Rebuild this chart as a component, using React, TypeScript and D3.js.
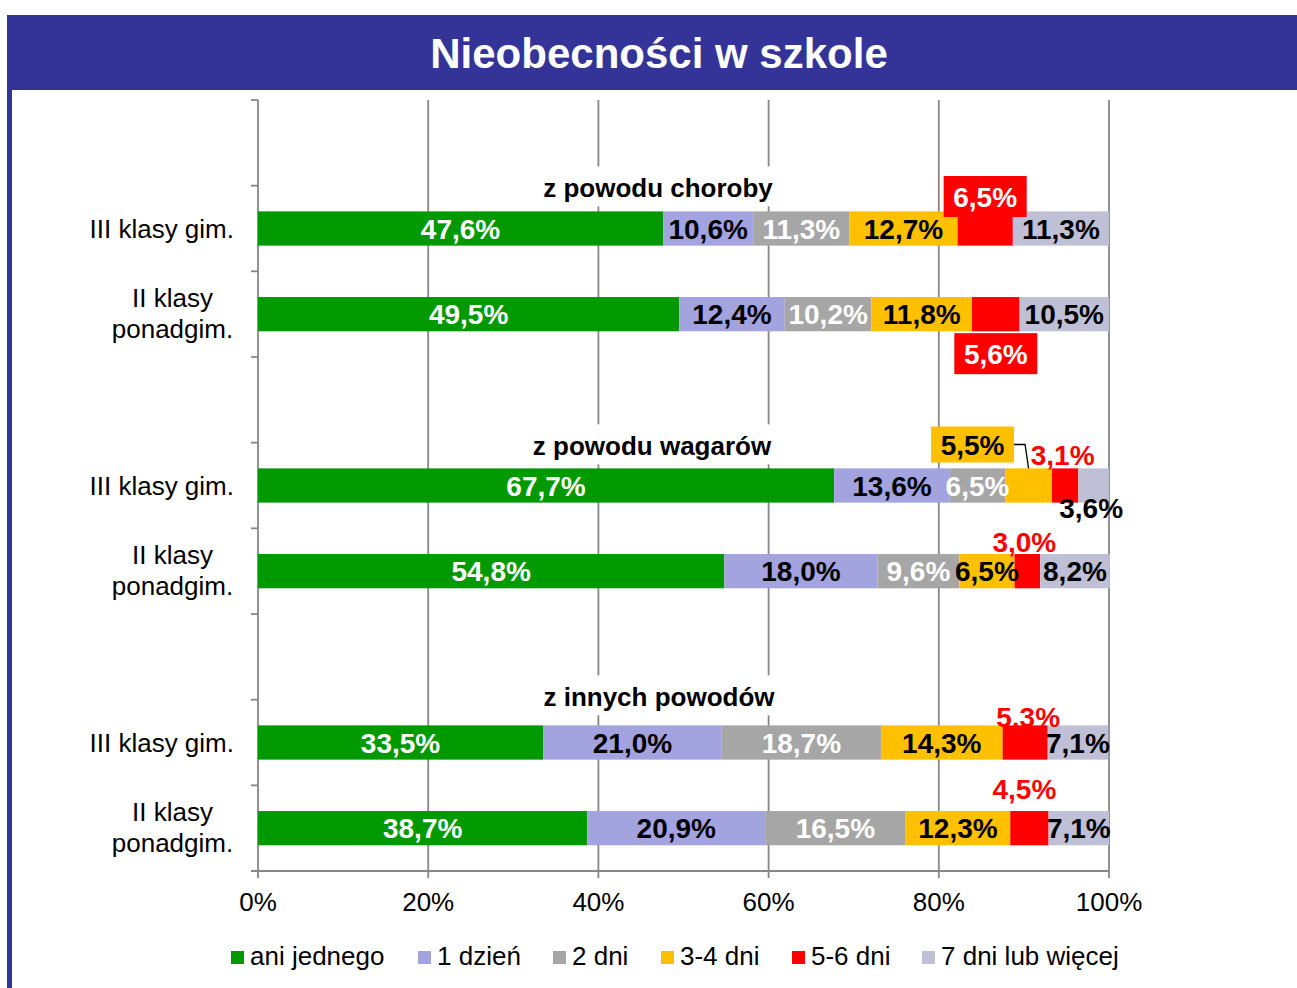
import React from "react";
import * as d3 from "d3";

// ---- data ----
const seriesNames = ["ani jednego", "1 dzień", "2 dni", "3-4 dni", "5-6 dni", "7 dni lub więcej"];
const seriesColors = ["#009900", "#A3A3E0", "#A6A6A6", "#FFC000", "#FF0000", "#BFBFD6"];
const labelColors = ["#FFFFFF", "#000000", "#FFFFFF", "#000000", "#FF0000", "#000000"];

const groupTitles = ["z powodu choroby", "z powodu wagarów", "z innych powodów"];
const rowLabels = [["III klasy gim."], ["II klasy", "ponadgim."]];

const chorobyIII = [47.6, 10.6, 11.3, 12.7, 6.5, 11.3];
const chorobyII = [49.5, 12.4, 10.2, 11.8, 5.6, 10.5];
const wagaryIII = [67.7, 13.6, 6.5, 5.5, 3.1, 3.6];
const wagaryII = [54.8, 18.0, 9.6, 6.5, 3.0, 8.2];
const inneIII = [33.5, 21.0, 18.7, 14.3, 5.3, 7.1];
const inneII = [38.7, 20.9, 16.5, 12.3, 4.5, 7.1];

const xTicks = [0, 20, 40, 60, 80, 100];

// ---- layout ----
const W = 1297;
const H = 988;
const FONT = "'Liberation Sans', Arial, Helvetica, sans-serif";
const BLUE = "#343498";
const GRID = "#878787";

const slots = ["g0", "g0r0", "g0r1", "g1", "g1r0", "g1r1", "g2", "g2r0", "g2r1"];
const groupRows = [
  [chorobyIII, chorobyII],
  [wagaryIII, wagaryII],
  [inneIII, inneII],
];

type Special = { dx: number; dy: number; box?: string; color?: string; connector?: boolean };
const specials: Record<string, Special> = {
  "0-0-4": { dx: 0, dy: -32, box: "#FF0000", color: "#FFFFFF" },
  "0-1-4": { dx: 0, dy: 39.5, box: "#FF0000", color: "#FFFFFF" },
  "1-0-3": { dx: -56, dy: -41, box: "#FFC000", color: "#000000", connector: true },
  "1-0-4": { dx: -2.5, dy: -31 },
  "1-0-5": { dx: -2.5, dy: 22 },
  "1-1-4": { dx: -3, dy: -29 },
  "2-0-4": { dx: 3, dy: -26 },
  "2-1-4": { dx: -5, dy: -39 },
};
const headingDx = [-25.5, -31.5, -24.5];
const headingDy = [-14, -13, -19];
const legendX = [231, 418, 553, 661, 792, 922];

const fmt = (v: number) => v.toFixed(1).replace(".", ",") + "%";

export default function App() {
  const x = d3.scaleLinear().domain([0, 100]).range([258, 1109]);
  const y = d3.scaleBand<string>().domain(slots).range([100, 871]).paddingInner(0.6).paddingOuter(0.3);
  const step = y.step();
  const bw = y.bandwidth();
  const axisTop = 100;
  const axisBottom = 871;

  const bars: React.ReactNode[] = [];
  const labels: React.ReactNode[] = [];
  const catLabels: React.ReactNode[] = [];
  const headings: React.ReactNode[] = [];

  groupRows.forEach((rows, g) => {
    rows.forEach((vals, r) => {
      const key = `g${g}r${r}`;
      const y0 = y(key)!;
      const cy = y0 + bw / 2;
      const stack = d3.stack<number[]>().keys(vals.map((_, i) => String(i))).value((d, k) => d[+k])([vals]);
      stack.forEach((s, i) => {
        const [a, b] = s[0];
        bars.push(
          <rect key={`b${g}${r}${i}`} x={x(a)} y={y0} width={x(b) - x(a)} height={bw} fill={seriesColors[i]} />
        );
        const sp = specials[`${g}-${r}-${i}`];
        const lx = (x(a) + x(b)) / 2 + (sp ? sp.dx : 0);
        const ly = cy + (sp ? sp.dy : 0);
        const col = sp && sp.color ? sp.color : i === 4 && !sp ? "#FFFFFF" : labelColors[i];
        if (sp && sp.box) {
          const bwid = 83;
          const bh = sp.connector ? 36 : 41;
          labels.push(
            <rect key={`lb${g}${r}${i}`} x={lx - bwid / 2} y={ly - bh / 2} width={bwid} height={bh} fill={sp.box} />
          );
          if (sp.connector) {
            const sx = (x(a) + x(b)) / 2;
            labels.push(
              <polyline
                key={`lc${g}${r}${i}`}
                points={`${lx + bwid / 2},${ly} ${lx + bwid / 2 + 11},${ly} ${sx},${y0}`}
                fill="none"
                stroke="#000"
                strokeWidth={1.3}
              />
            );
          }
        }
        labels.push(
          <text
            key={`lt${g}${r}${i}`}
            x={lx}
            y={ly + 10}
            textAnchor="middle"
            fontFamily={FONT}
            fontWeight="bold"
            fontSize={28}
            fill={col}
          >
            {fmt(vals[i])}
          </text>
        );
      });
      const lines = rowLabels[r];
      if (lines.length === 1) {
        catLabels.push(
          <text key={`c${g}${r}`} x={234} y={cy + 9} textAnchor="end" fontFamily={FONT} fontSize={26} fill="#000">
            {lines[0]}
          </text>
        );
      } else {
        lines.forEach((ln, li) => {
          catLabels.push(
            <text
              key={`c${g}${r}${li}`}
              x={172.5}
              y={cy + 9 + (li === 0 ? -16 : 15)}
              textAnchor="middle"
              fontFamily={FONT}
              fontSize={26}
              fill="#000"
            >
              {ln}
            </text>
          );
        });
      }
    });
    const firstTop = y(`g${g}r0`)!;
    const hx = (x(0) + x(100)) / 2 + headingDx[g];
    const hy = firstTop + headingDy[g];
    headings.push(
      <g key={`h${g}`}>
        <rect x={hx - 128} y={hy - 31} width={256} height={40} fill="#FFFFFF" />
        <text x={hx} y={hy} textAnchor="middle" fontFamily={FONT} fontWeight="bold" fontSize={26} fill="#000">
          {groupTitles[g]}
        </text>
      </g>
    );
  });

  const yTickYs = d3.range(slots.length + 1).map((k) => axisTop + k * step);

  return (
    <svg
      width={W}
      height={H}
      viewBox={`0 0 ${W} ${H}`}
      style={{ position: "absolute", left: 0, top: 0, display: "block", background: "#fff" }}
    >
      <rect x={0} y={0} width={W} height={H} fill="#FFFFFF" />
      <rect x={7} y={15} width={W - 7} height={75} fill={BLUE} />
      <rect x={7} y={90} width={5} height={H - 90} fill={BLUE} />
      <text x={659} y={68} textAnchor="middle" fontFamily={FONT} fontWeight="bold" fontSize={42} fill="#FFFFFF">
        Nieobecności w szkole
      </text>

      {xTicks.slice(1).map((t) => (
        <line key={`gl${t}`} x1={x(t)} x2={x(t)} y1={axisTop} y2={axisBottom + 7} stroke={GRID} strokeWidth={1.8} />
      ))}
      <line x1={x(0)} x2={x(0)} y1={axisTop} y2={axisBottom + 7} stroke={GRID} strokeWidth={1.8} />
      {yTickYs.map((t, i) => (
        <line key={`yt${i}`} x1={251} x2={x(0)} y1={t} y2={t} stroke={GRID} strokeWidth={1.8} />
      ))}
      <line x1={251} x2={x(100)} y1={axisBottom} y2={axisBottom} stroke={GRID} strokeWidth={1.8} />
      {xTicks.map((t) => (
        <text key={`xl${t}`} x={x(t)} y={911} textAnchor="middle" fontFamily={FONT} fontSize={26} fill="#000">
          {t + "%"}
        </text>
      ))}

      {headings}
      {bars}
      {labels}
      {catLabels}

      {seriesNames.map((n, i) => (
        <g key={`lg${i}`}>
          <rect x={legendX[i]} y={951} width={13} height={13} fill={seriesColors[i]} />
          <text x={legendX[i] + 19} y={965} fontFamily={FONT} fontSize={26} fill="#000">
            {n}
          </text>
        </g>
      ))}
    </svg>
  );
}
